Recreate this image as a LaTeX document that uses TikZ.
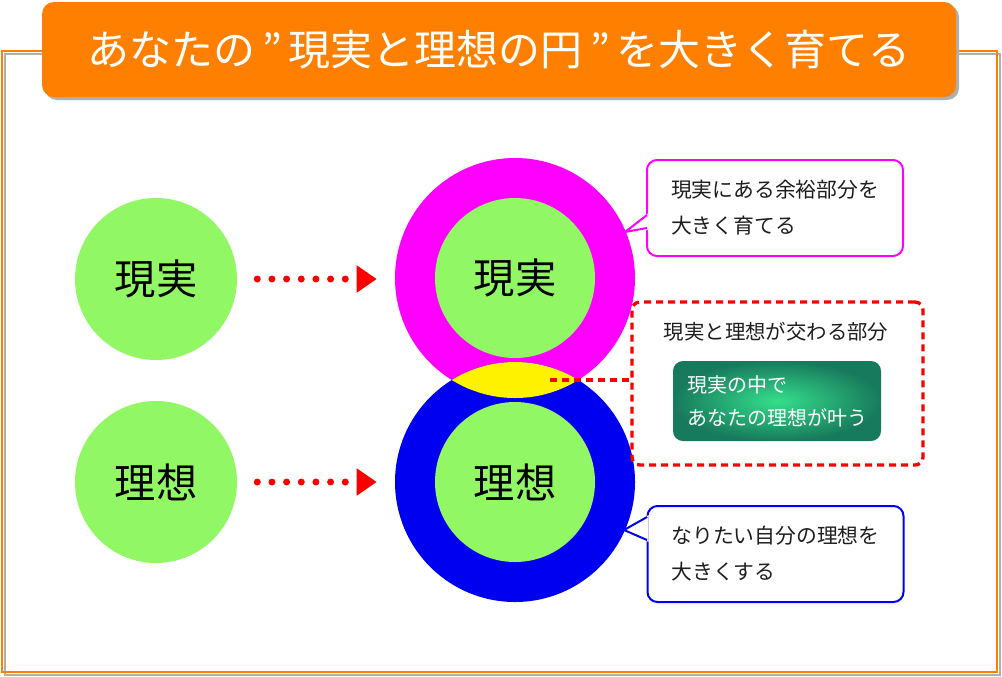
\documentclass[tikz,border=0pt]{standalone}
\usepackage{fontspec}
\setmainfont{Noto Sans CJK JP}
\usetikzlibrary{arrows.meta,shadows}
\definecolor{orng}{RGB}{255,128,0}
\definecolor{lgreen}{RGB}{146,247,100}
\definecolor{mag}{RGB}{255,0,255}
\definecolor{blu}{RGB}{0,0,240}
\definecolor{dkgreen}{RGB}{24,122,92}
\definecolor{ltgreen}{RGB}{52,222,140}
\definecolor{shgray}{RGB}{175,175,175}
\definecolor{txt}{RGB}{30,30,30}
\definecolor{dred}{RGB}{250,0,0}
\begin{document}
\begin{tikzpicture}[x=0.75pt,y=-0.75pt,
  smallc/.style={circle, fill=lgreen, minimum size=121.5pt, inner sep=0pt, font=\fontsize{31}{31}\selectfont},
  innerc/.style={circle, fill=lgreen, minimum size=120pt, inner sep=0pt, font=\fontsize{31}{31}\selectfont},
  ringc/.style={circle, minimum size=180pt, inner sep=0pt},
  dotarrow/.style={dred, line width=5.25pt, line cap=round, dash pattern=on 0pt off 11pt,
     -{Triangle[length=15pt,width=19.5pt]}, shorten <=15pt, shorten >=13.5pt},
  callbox/.style={rectangle, rounded corners=7.5pt, line width=1.5pt, fill=white,
     minimum width=192pt, minimum height=72pt, align=left, text=txt,
     font=\fontsize{15.6}{27}\selectfont},
  tailline/.style={line width=1.5pt, line join=miter},
]
\useasboundingbox (0,0) rectangle (1002,676);
% frame
\draw[shgray, line width=1.5pt] (5,54) rectangle (1000,675);
\draw[orng, line width=1.5pt] (2,51) rectangle (997,672);
% title
\node[rectangle, rounded corners=9pt, fill=orng, minimum width=685.5pt, minimum height=71.25pt,
  text=white, font=\fontsize{31.5}{31.5}\selectfont,
  drop shadow={shadow xshift=2.25pt, shadow yshift=-2.25pt, fill=shgray, opacity=1}]
  (title) at (499,49.5) {あなたの\,”\,現実と理想の円\,”\,を大きく育てる};
% left circles
\node[smallc] (g1) at (156,279) {現実};
\node[smallc] (g2) at (156,482) {理想};
% rings
\node[ringc, fill=mag] (r1) at (515,278) {};
\node[ringc, fill=blu] (r2) at (515,482) {};
\begin{scope}
  \clip (515,278) circle (90pt);
  \fill[yellow] (515,482) circle (90pt);
\end{scope}
\node[innerc] (i1) at (515,278) {現実};
\node[innerc] (i2) at (515,482) {理想};
% arrows
\draw[dotarrow] (g1) -- (g1 -| r1.west);
\draw[dotarrow] (g2) -- (g2 -| r2.west);
% dashed box
\node[rectangle, draw=dred, line width=2.5pt, dash pattern=on 5.25pt off 3.75pt,
  rounded corners=6pt, minimum width=218.25pt, minimum height=122.25pt] (dbox) at (777.5,383.5) {};
\node[text=txt, font=\fontsize{15.3}{15.3}\selectfont] (dlabel) at (776,332) {現実と理想が交わる部分};
\coordinate (lensp) at (550,380);
\draw[dred, line width=2.5pt, dash pattern=on 5.25pt off 3.75pt] (lensp) -- (lensp -| dbox.west);
\node[rectangle, rounded corners=7.5pt, inner color=ltgreen, outer color=dkgreen,
  minimum width=156pt, minimum height=60pt, text=white, align=left,
  font=\fontsize{15}{24.75}\selectfont] (gbox) at (777,401) {現実の中で\\あなたの理想が叶う};
% callout 1
\node[callbox, draw=mag] (c1) at (775,208) {現実にある余裕部分を\\大きく育てる};
\fill[white] (648.6,213) -- (625,232) -- (648.6,230) -- cycle;
\draw[tailline, mag] (647,215) -- (625,232) -- (647,228);
% callout 2
\node[callbox, draw=blu] (c2) at (775.5,554) {なりたい自分の理想を\\大きくする};
\fill[white] (648.6,515) -- (624,530) -- (648.6,542) -- cycle;
\draw[tailline, blu] (647,517) -- (624,530) -- (647,540);
\end{tikzpicture}
\end{document}
